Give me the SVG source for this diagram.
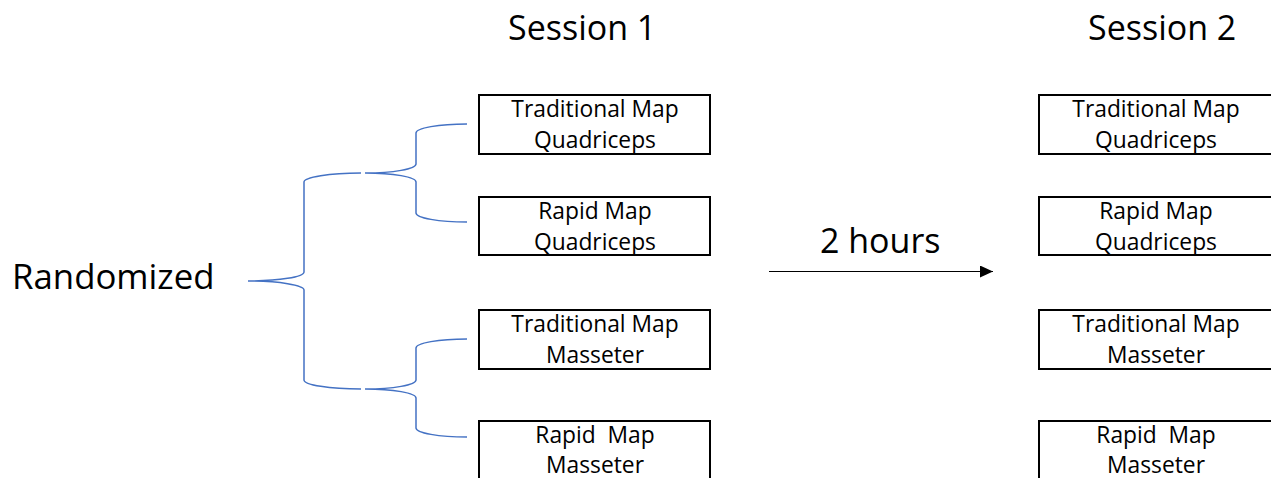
<svg xmlns="http://www.w3.org/2000/svg" width="1271" height="478" viewBox="0 0 1271 478">
  <style>
    .box { fill: #ffffff; stroke: #000000; stroke-width: 2; }
    .bt { font-family: "Open Sans", "Liberation Sans", sans-serif; font-size: 22.8px; fill: #000000; text-anchor: middle; }
    .big { font-family: "Open Sans", "Liberation Sans", sans-serif; font-size: 34px; fill: #000000; }
    .brace { fill: none; stroke: #4472C4; stroke-width: 1.5; }
    .arrow { stroke: #000000; stroke-width: 1.2; fill: none; }
  </style>
  <defs>
    <marker id="ah" markerWidth="16" markerHeight="14" refX="13" refY="6" orient="auto" markerUnits="userSpaceOnUse">
      <path d="M0,0 L13,6 L0,12 Z" fill="#000000"/>
    </marker>
  </defs>
  <rect width="1271" height="478" fill="#ffffff"/>

  <text class="big" x="508" y="40">Session 1</text>
  <text class="big" x="1088" y="40">Session 2</text>
  <text class="big" x="12" y="289" style="font-size:34.8px">Randomized</text>
  <text class="big" x="820" y="253">2 hours</text>

  <g id="connectors">
    <path class="brace" d="M 361 173 A 57 9 0 0 0 304 182 L 304 272 A 56 9 0 0 1 248 281 A 56 9 0 0 1 304 290 L 304 380 A 57 9 0 0 0 361 389"/>
    <path class="brace" d="M 467 124 A 51 9 0 0 0 416 133 L 416 164 A 51 9 0 0 1 365 173 A 51 9 0 0 1 416 182 L 416 213 A 51 9 0 0 0 467 222"/>
    <path class="brace" d="M 467 339 A 51 9 0 0 0 416 348 L 416 380 A 51 9 0 0 1 365 389 A 51 9 0 0 1 416 398 L 416 428 A 51 9 0 0 0 467 437"/>
    <line class="arrow" x1="769" y1="271.5" x2="993" y2="271.5" marker-end="url(#ah)"/>
  </g>

  <g id="s1-trad-quad">
    <rect class="box" x="479" y="95" width="231" height="59"/>
    <text class="bt" x="595" y="117">Traditional Map</text>
    <text class="bt" x="595" y="148">Quadriceps</text>
  </g>
  <g id="s1-rapid-quad">
    <rect class="box" x="479" y="197" width="231" height="58"/>
    <text class="bt" x="595" y="219">Rapid Map</text>
    <text class="bt" x="595" y="250">Quadriceps</text>
  </g>
  <g id="s1-trad-mass">
    <rect class="box" x="479" y="310" width="231" height="59"/>
    <text class="bt" x="595" y="332">Traditional Map</text>
    <text class="bt" x="595" y="363">Masseter</text>
  </g>
  <g id="s1-rapid-mass">
    <rect class="box" x="479" y="421" width="231" height="60"/>
    <text class="bt" x="595" y="443" xml:space="preserve">Rapid  Map</text>
    <text class="bt" x="595" y="473">Masseter</text>
  </g>

  <g id="s2-trad-quad">
    <rect class="box" x="1039" y="95" width="238" height="59"/>
    <text class="bt" x="1156" y="117">Traditional Map</text>
    <text class="bt" x="1156" y="148">Quadriceps</text>
  </g>
  <g id="s2-rapid-quad">
    <rect class="box" x="1039" y="197" width="238" height="58"/>
    <text class="bt" x="1156" y="219">Rapid Map</text>
    <text class="bt" x="1156" y="250">Quadriceps</text>
  </g>
  <g id="s2-trad-mass">
    <rect class="box" x="1039" y="310" width="238" height="59"/>
    <text class="bt" x="1156" y="332">Traditional Map</text>
    <text class="bt" x="1156" y="363">Masseter</text>
  </g>
  <g id="s2-rapid-mass">
    <rect class="box" x="1039" y="421" width="238" height="60"/>
    <text class="bt" x="1156" y="443" xml:space="preserve">Rapid  Map</text>
    <text class="bt" x="1156" y="473">Masseter</text>
  </g>
</svg>
